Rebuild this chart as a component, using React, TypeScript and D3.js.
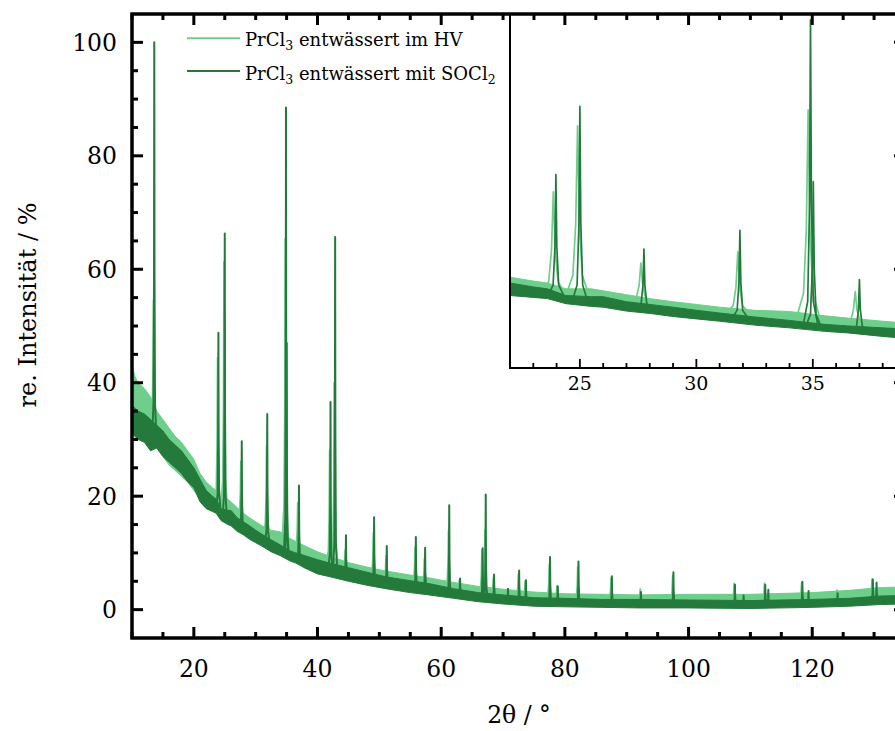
import React from "react";
import * as d3 from "d3";

// ---------- DATA ----------
// noise envelope sample positions (2θ / °)
const envTheta = [10, 10.5, 11, 12, 13, 14, 15, 16, 17, 18, 19, 20, 21, 22, 23, 23.6, 24.4, 25.5, 26, 27, 28, 29, 30, 31, 32.5, 34, 35.5, 36.5, 38, 40, 42, 45, 48, 51, 55, 58, 62, 66, 70, 75, 80, 86, 92, 100, 110, 120, 126, 131, 135];
// PrCl3 entwässert im HV (light) – lower / upper envelope of the noisy background
const hvLo = [35, 34, 33, 32, 30, 28.5, 27, 25.5, 24.5, 23.5, 22.5, 21, 19.5, 18.5, 18, 18, 16.5, 16.5, 15.5, 15, 14.3, 13.5, 12.8, 12.3, 11.5, 11, 9.8, 9.3, 8.5, 7.5, 6.8, 5.8, 4.9, 4.2, 3.6, 3.0, 2.5, 2.0, 1.7, 1.4, 1.2, 1.1, 1.0, 1.0, 1.1, 1.2, 1.4, 1.7, 1.8];
const hvHi = [43, 41, 40, 39, 37.5, 35, 33.5, 32, 30.5, 29.5, 28, 26.5, 24, 22.5, 21.5, 21, 19.5, 19.5, 19, 18, 17, 16.2, 15.5, 14.8, 14, 13.7, 12.6, 12, 11.2, 10.2, 9.4, 8.3, 7.5, 6.8, 6.1, 5.6, 4.8, 4.1, 3.6, 3.1, 2.8, 2.7, 2.6, 2.7, 2.7, 3.0, 3.4, 3.9, 4.0];
// PrCl3 entwässert mit SOCl2 (dark)
const soLo = [31, 30.5, 30, 29.5, 28, 28.5, 27, 26, 25, 24, 22.5, 21.5, 19, 17.8, 17.3, 17, 15.7, 15, 14.8, 13.8, 13.2, 12.4, 11.8, 11.2, 10.2, 9.5, 8.6, 8.2, 7.3, 6.3, 5.8, 5.0, 4.3, 3.7, 3.0, 2.6, 2.0, 1.4, 1.0, 0.6, 0.5, 0.4, 0.3, 0.3, 0.2, 0.4, 0.6, 0.9, 1.0];
const soHi = [36, 35.5, 35, 34.5, 33.5, 32.5, 31.5, 30, 29, 28, 26.5, 25, 23, 21, 20, 19.5, 17.8, 17.5, 17.5, 16.2, 15.5, 14.8, 14, 13.3, 12.3, 11.4, 10.4, 10, 9.5, 8.8, 8.2, 7.4, 6.6, 5.8, 5.1, 4.6, 3.7, 3.0, 2.6, 2.1, 2.0, 1.8, 1.8, 1.7, 1.6, 1.8, 2.0, 2.4, 2.5];

// reflections: position, apex intensity, local background
const soPeakPos = [13.6, 23.97, 25.0, 27.75, 31.87, 34.9, 35.02, 37.0, 42.1, 42.85, 44.6, 49.15, 51.2, 55.9, 57.4, 61.3, 63.05, 66.7, 67.2, 68.55, 70.8, 72.6, 73.7, 77.6, 78.85, 82.2, 87.6, 92.3, 97.55, 107.5, 108.9, 112.4, 112.9, 118.4, 119.4, 124.1, 129.8, 130.4];
const soPeakTop = [100, 48.8, 66.3, 29.7, 34.5, 88.5, 47, 21.9, 36.6, 65.7, 13.1, 16.3, 11.2, 12.8, 10.9, 18.4, 5.5, 10.8, 20.3, 6.2, 3.7, 6.9, 5.2, 9.3, 4.1, 8.5, 5.9, 3.1, 6.6, 4.4, 2.5, 4.4, 3.5, 4.9, 3.3, 2.9, 5.3, 4.8];
const soPeakBase = [31, 18, 16.5, 14.5, 12.2, 10, 10, 9, 7.5, 7.3, 6.3, 5.2, 4.8, 4.0, 3.8, 2.9, 2.7, 2.2, 2.2, 2.0, 1.8, 1.5, 1.4, 1.3, 1.3, 1.2, 1.1, 1.0, 1.0, 0.9, 0.9, 0.9, 0.9, 1.1, 1.1, 1.3, 1.6, 1.6];

const hvPeakPos = [13.5, 23.86, 24.9, 27.62, 31.78, 34.8, 36.82, 41.98, 42.72, 44.5, 49.05, 51.1, 55.8, 57.3, 61.2, 62.95, 66.6, 67.1, 68.45, 72.5, 73.6, 77.5, 78.75, 82.1, 87.5, 92.2, 97.45, 107.4, 112.3, 118.3, 124.0, 129.7];
const hvPeakTop = [54.6, 44.4, 61.3, 26.1, 29, 65.4, 18.8, 28, 40, 10.5, 13.5, 9.5, 11, 9, 14, 5.2, 10.5, 14, 5.6, 6.2, 5, 8, 4.2, 7.5, 5.6, 3.6, 6, 4.6, 4.6, 4.7, 3.4, 5.4];
const hvPeakBase = [33, 18.3, 17.8, 16, 13.3, 12, 10.4, 8.1, 7.9, 7.2, 5.9, 5.5, 4.7, 4.4, 3.8, 3.6, 3.0, 3.0, 2.8, 2.4, 2.3, 2.1, 2.0, 1.9, 1.9, 1.8, 1.8, 1.9, 1.9, 2.0, 2.3, 2.7];

const xTickLabels = [20, 40, 60, 80, 100, 120];
const yTickLabels = [0, 20, 40, 60, 80, 100];
const insetTickLabels = [25, 30, 35];
const legendLabels = ["entwässert im HV", "entwässert mit SOCl"];

// ---------- STYLE ----------
const W = 895;
const H = 731;
const LIGHT = "#6dcf8b";
const DARK = "#247a3b";
const FONT = "'DejaVu Serif', serif";

// peak shape (offset in °, fraction of peak height)
const DARK_PROFILE: [number, number][] = [[-0.32, 0], [-0.12, 0.08], [-0.04, 0.4], [0, 1], [0.04, 0.4], [0.12, 0.08], [0.32, 0]];
const LIGHT_PROFILE: [number, number][] = [[-0.5, 0], [-0.2, 0.12], [-0.08, 0.42], [0, 1], [0.08, 0.42], [0.2, 0.12], [0.5, 0]];

type Sc = d3.ScaleLinear<number, number>;

function Series(props: {
  x: Sc; y: Sc; lo: number[]; hi: number[]; pos: number[]; top: number[]; base: number[];
  color: string; profile: [number, number][]; sw: number;
}) {
  const { x, y, lo, hi, pos, top, base, color, profile, sw } = props;
  const area = d3.area<number>()
    .x((d) => x(d))
    .y0((_, i) => y(lo[i]))
    .y1((_, i) => y(hi[i]));
  const line = d3.line<[number, number]>().x((d) => x(d[0])).y((d) => y(d[1]));
  return (
    <g>
      <path d={area(envTheta) || ""} fill={color} stroke={color} strokeWidth={1} />
      {pos.map((p, i) => (
        <path
          key={i}
          d={line(profile.map(([dx, f]) => [p + dx, base[i] + (top[i] - base[i]) * f] as [number, number])) || ""}
          fill="none"
          stroke={color}
          strokeWidth={sw}
          strokeLinejoin="round"
        />
      ))}
    </g>
  );
}

export default function App() {
  const mx = d3.scaleLinear().domain([10, 135]).range([132, 905]);
  const my = d3.scaleLinear().domain([-5, 105]).range([638, 14]);
  const ix = d3.scaleLinear().domain([22, 39]).range([510, 906]);
  const iy = d3.scaleLinear().domain([-0.8, 90]).range([368, 14]);

  const xMinor = d3.range(10, 136, 5);
  const yMinor = d3.range(0, 105, 5);
  const iMinor = d3.range(22, 40, 1);

  return (
    <div style={{ position: "absolute", left: 0, top: 0, width: W, height: H, background: "#fff" }}>
      <svg width={W} height={H} style={{ display: "block" }} fontFamily={FONT}>
        <defs>
          <clipPath id="mainClip">
            <rect x={132} y={14} width={773} height={624} />
          </clipPath>
          <clipPath id="insetClip">
            <rect x={510} y={14} width={396} height={354} />
          </clipPath>
        </defs>
        <rect x={0} y={0} width={W} height={H} fill="#fff" />

        {/* main data */}
        <g clipPath="url(#mainClip)">
          <Series x={mx} y={my} lo={hvLo} hi={hvHi} pos={hvPeakPos} top={hvPeakTop} base={hvPeakBase} color={LIGHT} profile={LIGHT_PROFILE} sw={2} />
          <Series x={mx} y={my} lo={soLo} hi={soHi} pos={soPeakPos} top={soPeakTop} base={soPeakBase} color={DARK} profile={DARK_PROFILE} sw={2} />
        </g>

        {/* inset */}
        <rect x={510} y={14} width={396} height={354} fill="#fff" />
        <g clipPath="url(#insetClip)">
          <Series x={ix} y={iy} lo={hvLo} hi={hvHi} pos={hvPeakPos} top={hvPeakTop} base={hvPeakBase} color={LIGHT} profile={LIGHT_PROFILE} sw={1.7} />
          <Series x={ix} y={iy} lo={soLo} hi={soHi} pos={soPeakPos} top={soPeakTop} base={soPeakBase} color={DARK} profile={DARK_PROFILE} sw={1.7} />
        </g>
        <line x1={510} y1={14} x2={510} y2={368} stroke="#000" strokeWidth={2} />
        <line x1={509} y1={368} x2={906} y2={368} stroke="#000" strokeWidth={2} />
        {iMinor.map((t) => {
          const major = insetTickLabels.includes(t);
          return <line key={"it" + t} x1={ix(t)} x2={ix(t)} y1={368} y2={368 - (major ? 9 : 5)} stroke="#000" strokeWidth={1.8} />;
        })}
        {insetTickLabels.map((t) => (
          <text key={"il" + t} x={ix(t)} y={390} fontSize={19} textAnchor="middle" fill="#000">{t}</text>
        ))}

        {/* main frame and ticks */}
        <rect x={132} y={14} width={773} height={624} fill="none" stroke="#000" strokeWidth={3.5} />
        {xMinor.map((t) => {
          const major = t % 20 === 0;
          const L = major ? 11 : 6;
          return (
            <g key={"xt" + t}>
              <line x1={mx(t)} x2={mx(t)} y1={638} y2={638 - L} stroke="#000" strokeWidth={3} />
              <line x1={mx(t)} x2={mx(t)} y1={14} y2={14 + L} stroke="#000" strokeWidth={3} />
            </g>
          );
        })}
        {yMinor.map((t) => {
          const major = t % 20 === 0;
          const L = major ? 11 : 6;
          return (
            <g key={"yt" + t}>
              <line x1={132} x2={132 + L} y1={my(t)} y2={my(t)} stroke="#000" strokeWidth={3} />
              <line x1={905} x2={905 - L} y1={my(t)} y2={my(t)} stroke="#000" strokeWidth={3} />
            </g>
          );
        })}
        {xTickLabels.map((t) => (
          <text key={"xl" + t} x={mx(t)} y={677} fontSize={23.5} textAnchor="middle" fill="#000">{t}</text>
        ))}
        {yTickLabels.map((t) => (
          <text key={"yl" + t} x={117} y={my(t) + 8.5} fontSize={23.5} textAnchor="end" fill="#000">{t}</text>
        ))}

        {/* axis titles */}
        <text x={519} y={723} fontSize={23.5} textAnchor="middle" fill="#000">2θ / °</text>
        <text transform="translate(36,305) rotate(-90)" fontSize={24} textAnchor="middle" fill="#000">re. Intensität / %</text>

        {/* legend */}
        <line x1={187} x2={240} y1={38.3} y2={38.3} stroke={LIGHT} strokeWidth={2} />
        <line x1={187} x2={240} y1={71} y2={71} stroke={DARK} strokeWidth={2} />
        <text x={245} y={45.5} fontSize={18} fill="#000">
          PrCl<tspan fontSize={12.5} dy={4}>3</tspan>
          <tspan dy={-4}> {legendLabels[0]}</tspan>
        </text>
        <text x={245} y={80} fontSize={18} fill="#000">
          PrCl<tspan fontSize={12.5} dy={4}>3</tspan>
          <tspan dy={-4}> {legendLabels[1]}</tspan>
          <tspan fontSize={12.5} dy={4}>2</tspan>
        </text>
      </svg>
    </div>
  );
}
